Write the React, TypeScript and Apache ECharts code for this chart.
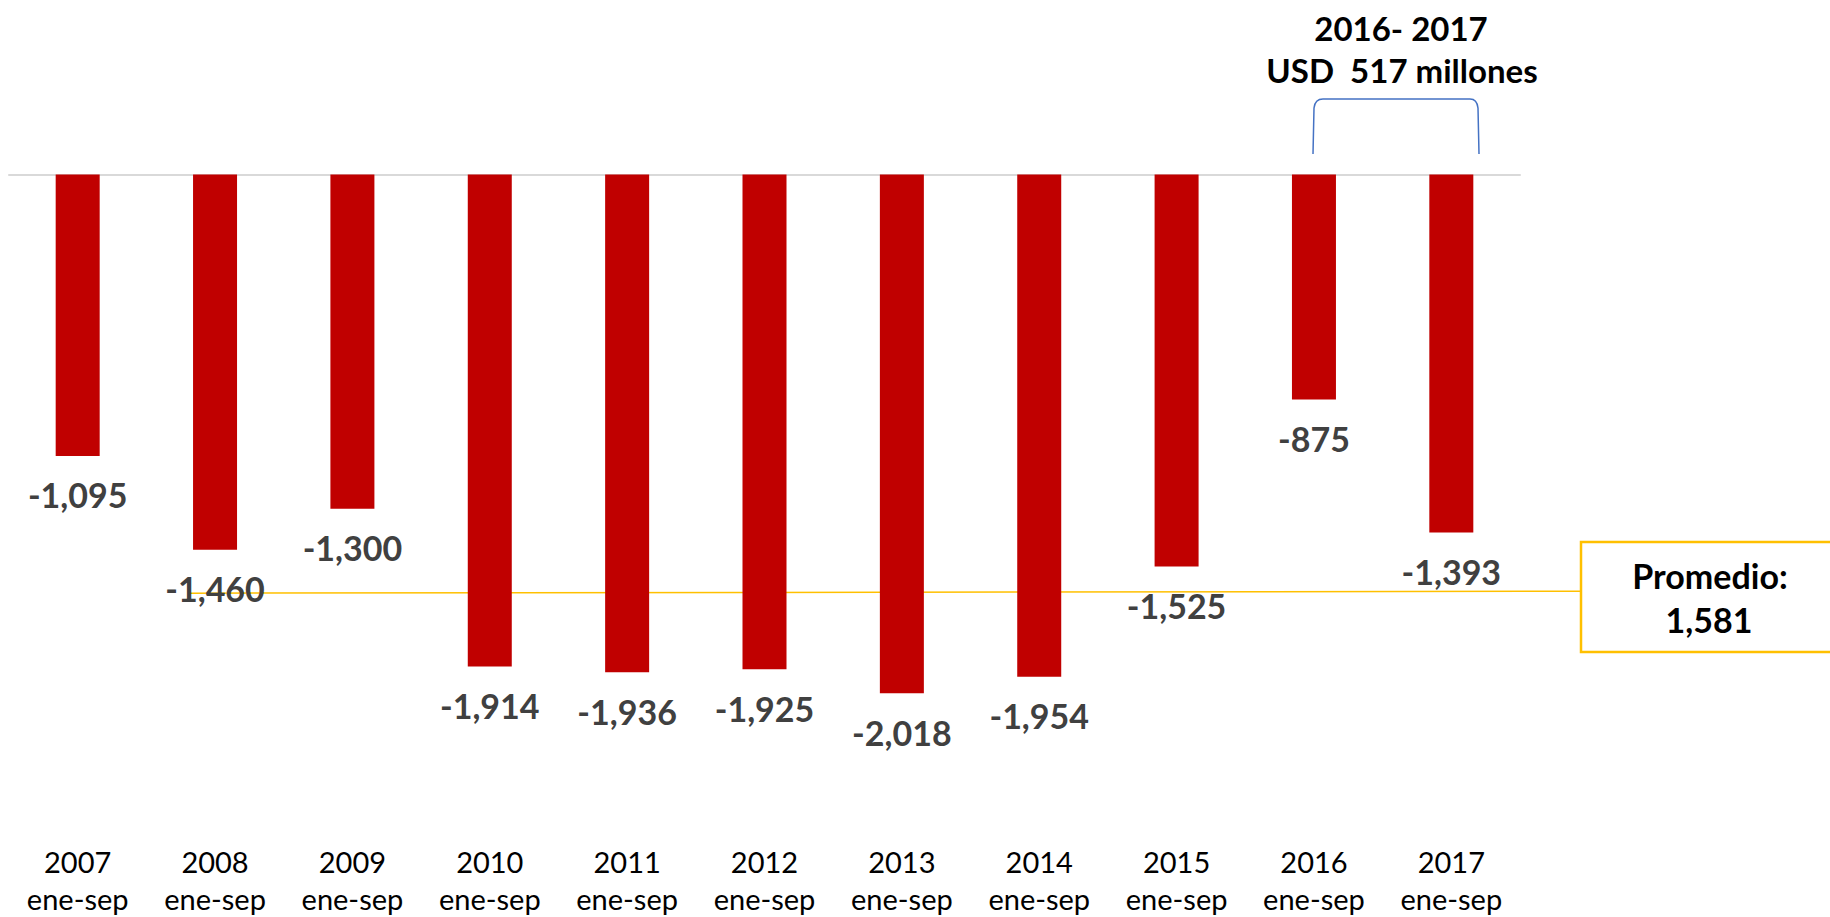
import React, { useEffect, useRef } from "react";
import * as echarts from "echarts";

const categories = ["2007", "2008", "2009", "2010", "2011", "2012", "2013", "2014", "2015", "2016", "2017"];
const periodLabel = "ene-sep";
const values = [-1095, -1460, -1300, -1914, -1936, -1925, -2018, -1954, -1525, -875, -1393];
const yMin = -2550;
const yMax = 0;
const averageLineLevel = -1623;
const averageText = ["Promedio:", "1,581"];
const topNote = ["2016- 2017", "USD  517 millones"];

const FONT = "Lato, 'Open Sans', sans-serif";

const fmt = (v: number) => (v < 0 ? "-" : "") + Math.abs(v).toLocaleString("en-US");

export default function App() {
  const ref = useRef<HTMLDivElement>(null);
  useEffect(() => {
    if (!ref.current) return;
    const chart = echarts.init(ref.current, undefined, { renderer: "svg" });
    echarts.graphic.registerShape(
      "bracket",
      echarts.graphic.extendPath("M 1313 154 L 1314 108 Q 1315 99 1323 99 L 1470 99 Q 1477 99 1478 108 L 1479 154", {})
    );
    chart.setOption({
      animation: false,
      backgroundColor: "#ffffff",
      grid: { left: 9, right: 310, top: 174.5, bottom: 82.3, containLabel: false },
      xAxis: [
        {
          type: "category",
          data: categories,
          axisLine: { show: false, onZero: false },
          axisTick: { show: false },
          axisLabel: {
            margin: 13,
            fontFamily: FONT,
            fontSize: 29,
            lineHeight: 37,
            color: "#000000",
            formatter: (v: string) => v + "\n" + periodLabel,
          },
        },
        {
          type: "category",
          data: categories,
          position: "top",
          axisLine: { show: true, onZero: false, lineStyle: { color: "#D9D9D9", width: 2 } },
          axisTick: { show: false },
          axisLabel: { show: false },
        },
      ],
      yAxis: {
        type: "value",
        min: yMin,
        max: yMax,
        show: false,
        splitLine: { show: false },
      },
      series: [
        {
          type: "bar",
          data: values,
          barWidth: 44,
          z: 5,
          itemStyle: { color: "#C00000" },
          label: {
            show: true,
            position: "bottom",
            distance: 22,
            fontFamily: FONT,
            fontSize: 34,
            fontWeight: "bold",
            color: "#404040",
            formatter: (p: any) => fmt(p.value),
          },
        },
      ],
    });
    const yAvg = chart.convertToPixel({ yAxisIndex: 0 }, averageLineLevel) as number;
    const textStyle = (text: string, size: number) => ({
      text,
      fontFamily: FONT,
      fontSize: size,
      fontWeight: "bold",
      fill: "#000000",
      align: "center",
      verticalAlign: "middle",
    });
    chart.setOption({
      graphic: [
        {
          type: "line",
          z: 0,
          shape: { x1: 190, y1: yAvg + 1.5, x2: 1580, y2: yAvg - 0.5 },
          style: { stroke: "#FFC000", lineWidth: 1.5 },
        },
        {
          type: "rect",
          z: 10,
          shape: { x: 1581, y: 542, width: 270, height: 110 },
          style: { fill: "#ffffff", stroke: "#FFC000", lineWidth: 2.5 },
        },
        { type: "text", z: 11, x: 1710, y: 575, style: textStyle(averageText[0], 34) },
        { type: "text", z: 11, x: 1709, y: 619, style: textStyle(averageText[1], 34) },
        { type: "text", z: 11, x: 1401, y: 28, style: textStyle(topNote[0], 33) },
        { type: "text", z: 11, x: 1402, y: 70, style: textStyle(topNote[1], 33) },
        {
          type: "bracket",
          z: 11,
          x: 0,
          y: 0,
          style: { fill: "none", stroke: "#4472C4", lineWidth: 1.5 },
        },
      ],
    });
    return () => chart.dispose();
  }, []);
  return (
    <div
      ref={ref}
      style={{ position: "fixed", left: 0, top: 0, width: 1830, height: 917, background: "#fff" }}
    />
  );
}
